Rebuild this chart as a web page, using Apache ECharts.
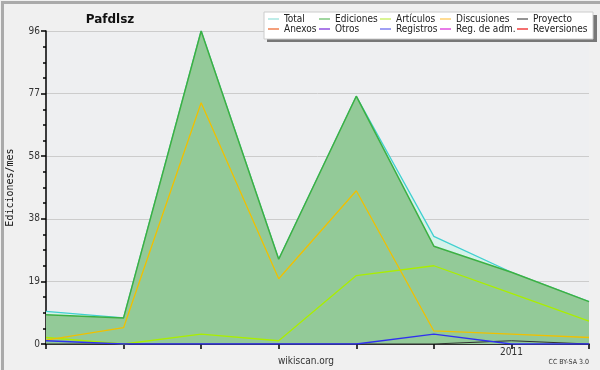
<!DOCTYPE html>
<html><head><meta charset="utf-8">
<script src="https://cdn.jsdelivr.net/npm/echarts@6/dist/echarts.min.js"></script>
<style>html,body{margin:0;padding:0;background:#f0f0f0}#c{width:600px;height:370px}</style>
</head><body><div id="c"></div>
<script>
var months = ['2010-07','2010-08','2010-09','2010-10','2010-11','2010-12','2011-01','2011-02'];
var xLabels = ['', '', '', '', '', '', '2011', ''];
var total = [10, 8, 96, 26, 76, 33, 22, 13];
var ediciones = [9, 8, 96, 26, 76, 30, 22, 13];
var articulos = [2, 0, 3, 1, 21, 24, 15.5, 7];
var discusiones = [1.2, 5, 74, 20, 47, 4, 3, 2];
var registros = [1, 0, 0, 0, 0, 3, 0, 0];
var proyecto = [0, 0, 0, 0, 0, 0, 1, 0];
var yMax = 96;

var legendCols = [
  [{name:'Total',c:'#a8e6e0'},{name:'Anexos',c:'#f08050'}],
  [{name:'Ediciones',c:'#80c880'},{name:'Otros',c:'#9050e0'}],
  [{name:'Artículos',c:'#ccf070'},{name:'Registros',c:'#8080f0'}],
  [{name:'Discusiones',c:'#ffd070'},{name:'Reg. de adm.',c:'#e050e0'}],
  [{name:'Proyecto',c:'#707070'},{name:'Reversiones',c:'#f04040'}]
];
var colX = [268, 319, 380, 440, 517];

var chart = echarts.init(document.getElementById('c'), null, {renderer:'canvas'});
var font = 'DejaVu Sans Condensed, DejaVu Sans';

var legends = legendCols.map(function(col, i){
  return {
    left: colX[i], top: 14, orient: 'vertical', itemGap: 0,
    itemWidth: 11, itemHeight: 1.5, icon: 'rect', padding: 0,
    selectedMode: false,
    textStyle: {fontFamily: font, fontSize: 10, color: '#222', padding:[0,0,0,0]},
    data: col.map(function(d){ return {name: d.name, itemStyle:{color:d.c}}; })
  };
});

function lineSeries(name, data, color, width, z){
  return {name:name, type:'line', data:data, symbol:'none', z:z,
    lineStyle:{color:color, width:width}, itemStyle:{color:color}};
}

var series = [
  {name:'Total', type:'line', data: total, symbol:'none', z:2,
    lineStyle:{color:'#40d0d0', width:1.3}, itemStyle:{color:'#40d0d0'},
    areaStyle:{color:'#d6f2ea', opacity:1}},
  {name:'Ediciones', type:'line', data: ediciones, symbol:'none', z:3,
    lineStyle:{color:'#3cb043', width:1.5}, itemStyle:{color:'#3cb043'},
    areaStyle:{color:'#93ca98', opacity:1}},
  lineSeries('Artículos', articulos, '#aaee00', 1.3, 4),
  lineSeries('Discusiones', discusiones, '#f0c000', 1.3, 4),
  lineSeries('Proyecto', proyecto, '#303030', 1, 4),
  lineSeries('Anexos', [], '#f08050', 1, 4),
  lineSeries('Otros', [], '#9050e0', 1, 4),
  lineSeries('Registros', registros, '#3030f0', 1.3, 5),
  lineSeries('Reg. de adm.', [], '#e050e0', 1, 4),
  lineSeries('Reversiones', [], '#f04040', 1, 4)
];

chart.setOption({
  backgroundColor: '#f0f0f0',
  animation: false,
  title: {text:'Pafdlsz', left: 105, top: 9, textAlign:'center',
    textStyle:{fontFamily:'DejaVu Sans', fontSize:12, fontWeight:'bold', color:'#111'}},
  legend: legends,
  grid: {left:46, right:11, top:31, bottom:26, show:true, backgroundColor:'#eeeff1', borderWidth:0,
    containLabel:false, outerBoundsMode:'none'},
  xAxis: {type:'category', data: months, boundaryGap:false,
    axisLine:{lineStyle:{color:'#000', width:1.5}},
    axisTick:{show:true, length:5, interval:0, lineStyle:{color:'#000', width:1.5}},
    axisLabel:{interval:0, margin:3, fontFamily:font, fontSize:10, color:'#333',
      formatter:function(v, i){ return xLabels[i]; }},
    splitLine:{show:false}},
  yAxis: {type:'value', min:0, max:yMax, interval: yMax/5,
    name:'Ediciones/mes', nameLocation:'middle', nameGap:31, nameRotate:90,
    nameTextStyle:{fontFamily:'DejaVu Sans Mono', fontSize:10, color:'#111'},
    axisLine:{show:true, lineStyle:{color:'#000', width:1.5}},
    axisTick:{show:true, length:5, lineStyle:{color:'#000', width:1.5}},
    minorTick:{show:true, splitNumber:4, length:3, lineStyle:{color:'#000', width:1.5}},
    axisLabel:{margin:6, fontFamily:font, fontSize:10, color:'#333',
      formatter:function(v){ return Math.round(v); }},
    splitLine:{show:true, lineStyle:{color:'#cccccc', width:1}}},
  graphic: [
    {type:'rect', left:0, top:0, z:-10, silent:true,
      shape:{x:0, y:0, width:600, height:370},
      style:{fill:'none', stroke:'#aaaaaa', lineWidth:3}},
    {type:'rect', z:1, silent:true, shape:{x:267, y:15, width:330, height:27},
      style:{fill:'#777777'}},
    {type:'rect', z:1, silent:true, shape:{x:264, y:12, width:329, height:27},
      style:{fill:'#ffffff', stroke:'#cccccc', lineWidth:1}},
    {type:'text', z:5, silent:true, x:306, y:361,
      style:{text:'wikiscan.org', fontFamily:font, fontSize:10, fill:'#333', align:'center', verticalAlign:'middle'}},
    {type:'text', z:5, silent:true, x:589, y:362,
      style:{text:'CC BY-SA 3.0', fontFamily:font, fontSize:7, fill:'#333', align:'right', verticalAlign:'middle'}}
  ],
  series: series
});
</script></body></html>
